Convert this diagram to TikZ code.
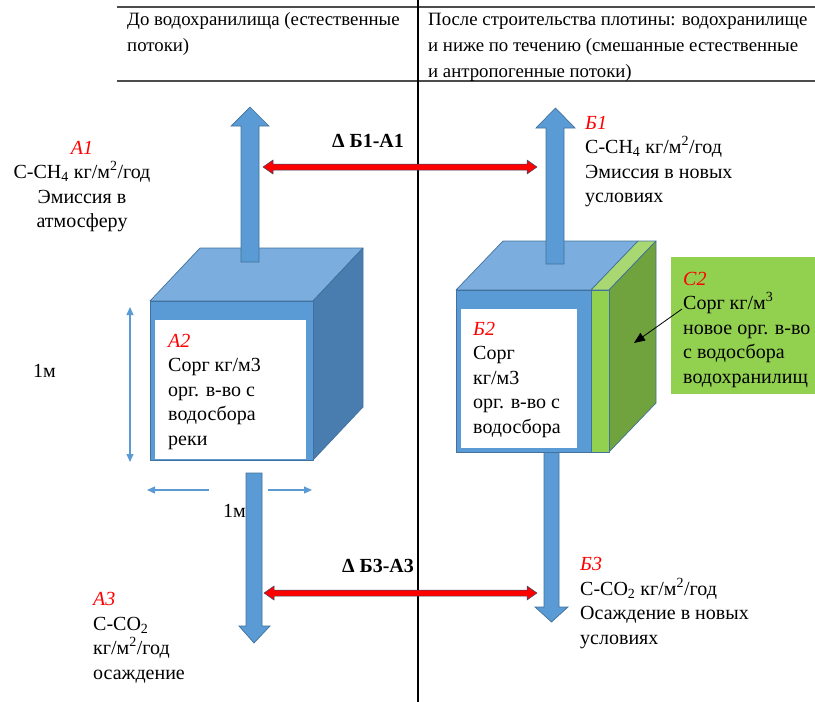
\documentclass[tikz,border=0pt]{standalone}
\usepackage{fontspec}
\setmainfont{Liberation Serif}
\usetikzlibrary{calc}
\usetikzlibrary{arrows.meta}

\definecolor{boxblue}{HTML}{5B9BD5}
\definecolor{topblue}{HTML}{7BAEDE}
\definecolor{sideblue}{HTML}{497DAF}
\definecolor{edgeblue}{HTML}{41719C}
\definecolor{leafgreen}{HTML}{92D050}
\definecolor{palegreen}{HTML}{A9D872}
\definecolor{darkgreen}{HTML}{70A23D}

\begin{document}
\begin{tikzpicture}[x=1pt, y=-1pt,
	txt/.style={inner sep=0pt, anchor=base west, align=left, font=\fontsize{20}{24.5}\selectfont},
	head/.style={txt, font=\fontsize{18.8}{26}\selectfont},
	face/.style={draw=edgeblue, line width=0.7pt, line join=round},
	flow/.style={fill=boxblue, draw=edgeblue, line width=0.7pt},
	gap/.style={fill=red, draw=edgeblue!70!black, line width=0.5pt},
	dim/.style={boxblue, line width=1.2pt, -{Triangle[width=7pt,length=8pt]}}]
	\useasboundingbox (0,0) rectangle (815,702);

	% table head (nodes sit on the baseline of their last line)
	\draw[line width=1.5pt, black!70] (117,7) -- (815,7);
	\draw[line width=1.5pt, black!70] (117,81) -- (815,81);
	\draw[line width=2.5pt] (418,0) -- (418,702); % divider
	\node[head] (headl) at (127,51) {До водохранилища (естественные\\потоки)};
	\node[head] (headr) at (428,77) {После строительства плотины: водохранилище\\и ниже по течению (смешанные естественные\\и антропогенные потоки)};

	% river column: down arrow, cube, up arrow
	\draw[flow] (246,473) -- (262,473) -- (262,626) -- (270,626) -- (254,643) -- (239,626) -- (246,626) -- cycle;
	\fill[topblue, face] (150,301) -- (200,248) -- (363,248) -- (313,301) -- cycle;
	\fill[sideblue, face] (313,301) -- (363,248) -- (363,407) -- (313,460) -- cycle;
	\fill[boxblue, face] (150,301) rectangle (313,460);
	\fill[white] (155,320) rectangle (306,459);
	\draw[flow] (241,262) -- (241,126) -- (231,126) -- (250,107) -- (269,126) -- (259,126) -- (259,262) -- cycle;

	% reservoir column
	\draw[flow] (544,450) -- (559,450) -- (559,607) -- (568,607) -- (551.5,622) -- (535,607) -- (544,607) -- cycle;
	\fill[topblue, face] (456,290) -- (503,241) -- (638,241) -- (591,290) -- cycle;
	\fill[palegreen, face] (591,290) -- (638,241) -- (656,241) -- (609,290) -- cycle;
	\fill[darkgreen, face] (609,290) -- (656,241) -- (656,403) -- (609,452) -- cycle;
	\fill[boxblue, face] (456,290) rectangle (591,452);
	\fill[leafgreen, face] (591,290) rectangle (609,452);
	\fill[white] (461,309) rectangle (577,448);
	\draw[flow] (546,264) -- (546,128) -- (536,128) -- (555.5,108) -- (575,128) -- (564,128) -- (564,264) -- cycle;

	% differences between columns
	\coordinate (g1l) at (263,167);
	\coordinate (g1r) at (537,167);
	\coordinate (g3l) at (264,593);
	\coordinate (g3r) at (537,593);
	\draw[gap] (g1l) -- ++(10,-7) -- ++(0,4) -- ($(g1r)+(-10,-3)$) -- ++(0,-4) -- (g1r) -- ++(-10,7) -- ++(0,-4) -- ($(g1l)+(10,3)$) -- ++(0,4) -- cycle;
	\draw[gap] (g3l) -- ++(10,-7) -- ++(0,4) -- ($(g3r)+(-10,-3)$) -- ++(0,-4) -- (g3r) -- ++(-10,7) -- ++(0,-4) -- ($(g3l)+(10,3)$) -- ++(0,4) -- cycle;
	\node[txt, anchor=base, font=\fontsize{20}{24.5}\selectfont\bfseries] (d1) at (368,147) {Δ Б1-А1};
	\node[txt, anchor=base, font=\fontsize{20}{24.5}\selectfont\bfseries] (d3) at (378,572) {Δ Б3-А3};

	% 1 m scale
	\draw[dim, {Triangle[width=7pt,length=8pt]}-{Triangle[width=7pt,length=8pt]}] (130,307) -- (130,462);
	\draw[dim] (209,490) -- (147,490);
	\draw[dim] (268,490) -- (312,490);
	\node[txt] (m1) at (33,377) {1м};
	\node[txt] (m2) at (223,517) {1м};

	% labels
	\node[txt, anchor=base, align=center] (a1) at (82,227.5) {\textcolor{red}{\textit{А1}}\\С-СН\textsubscript{4} кг/м\textsuperscript{2}/год\\Эмиссия в\\атмосферу};
	\node[txt] (a2) at (168,445) {\textcolor{red}{\textit{А2}}\\Сорг кг/м3\\орг. в-во с\\водосбора\\реки};
	\node[txt] (a3) at (93,679) {\textcolor{red}{\textit{А3}}\\С-СО\textsubscript{2}\\кг/м\textsuperscript{2}/год\\осаждение};
	\node[txt] (b1) at (585,202.5) {\textcolor{red}{\textit{Б1}}\\С-СН\textsubscript{4} кг/м\textsuperscript{2}/год\\Эмиссия в новых\\условиях};
	\node[txt] (b2) at (473,433) {\textcolor{red}{\textit{Б2}}\\Сорг\\кг/м3\\орг. в-во с\\водосбора};
	\node[txt] (b3) at (580,644) {\textcolor{red}{\textit{Б3}}\\С-СО\textsubscript{2} кг/м\textsuperscript{2}/год\\Осаждение в новых\\условиях};

	% new catchment matter
	\fill[leafgreen] (671,257) rectangle (815,394);
	\node[txt] (c2) at (683,383) {\textcolor{red}{\textit{С2}}\\Сорг кг/м\textsuperscript{3}\\новое орг. в-во\\с водосбора\\водохранилищ};
	\coordinate (c2tail) at (682,309);
	\coordinate (c2tip) at (634,343);
	\draw[-{Triangle[width=9pt,length=11pt]}, line width=0.8pt] (c2tail) -- (c2tip);
\end{tikzpicture}
\end{document}
